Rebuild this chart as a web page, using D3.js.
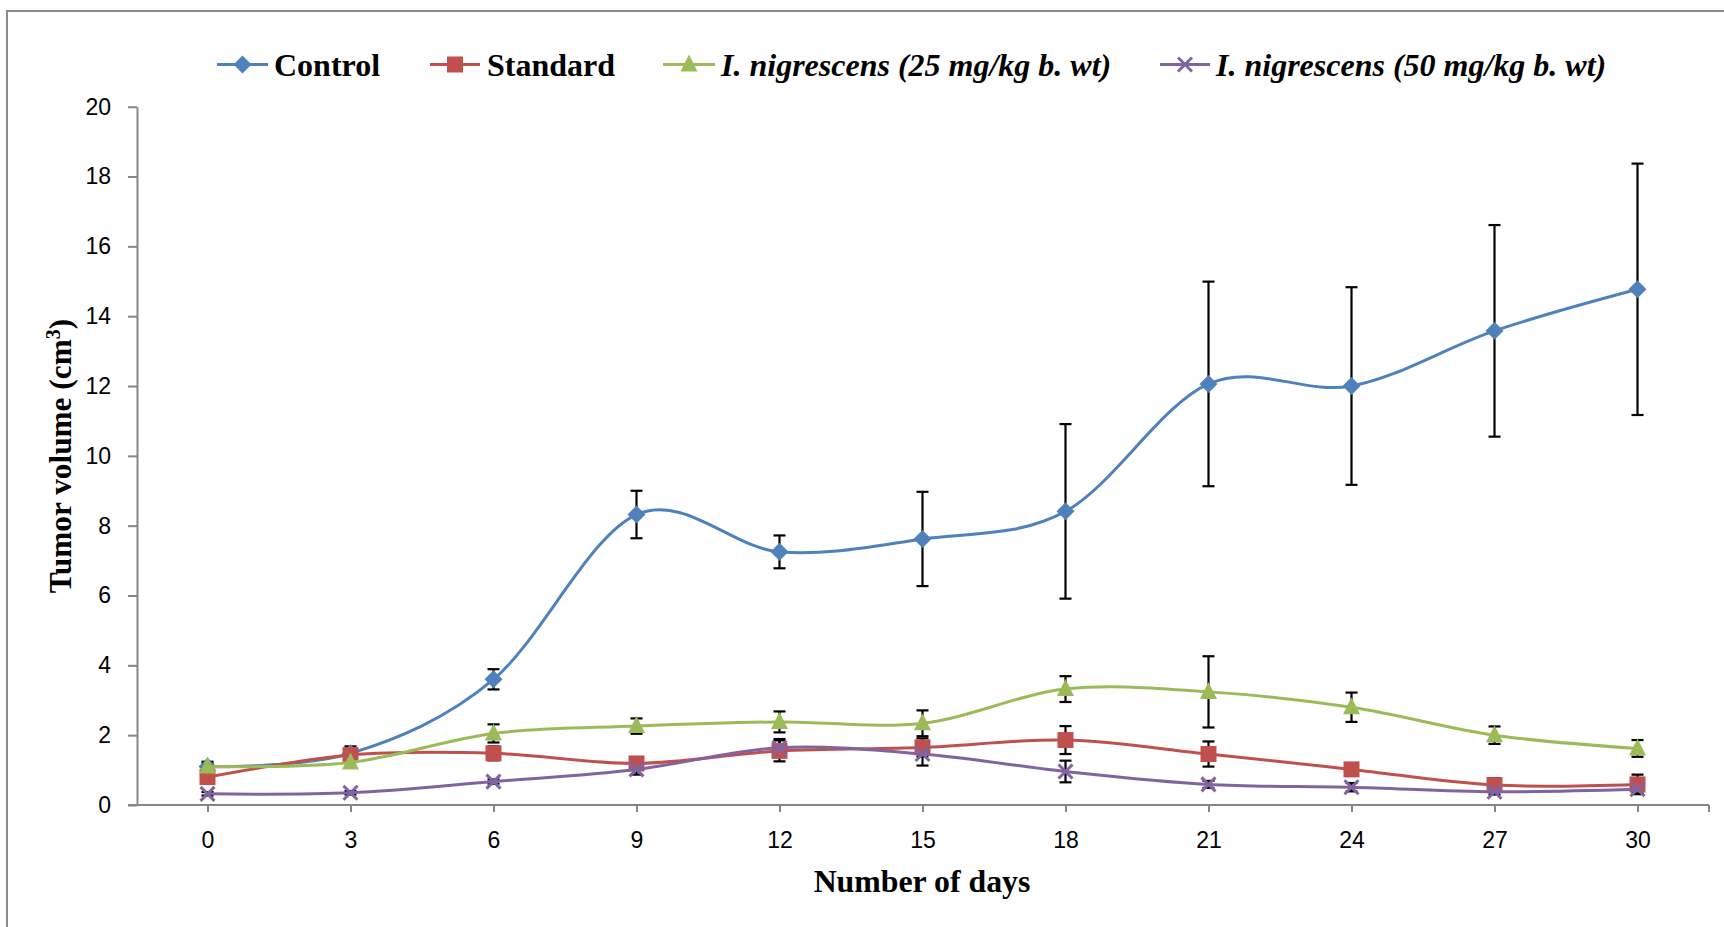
<!DOCTYPE html>
<html>
<head>
<meta charset="utf-8">
<script src="https://cdn.jsdelivr.net/npm/d3@7"></script>
<style>
  html, body { margin: 0; padding: 0; background: #fff; }
  svg { display: block; }
</style>
</head>
<body>
<svg id="chart" width="1724" height="927"></svg>
<script>
// Tumor volume over time, mean ± error, four treatment groups
const days = [0, 3, 6, 9, 12, 15, 18, 21, 24, 27, 30];
const yTicks = [0, 2, 4, 6, 8, 10, 12, 14, 16, 18, 20];

const seriesNames = ["Control", "Standard", "I. nigrescens (25 mg/kg b. wt)", "I. nigrescens (50 mg/kg b. wt)"];

const controlValues   = [1.10, 1.48, 3.60, 8.32, 7.25, 7.62, 8.41, 12.06, 12.00, 13.58, 14.77];
const controlErrors   = [0.14, 0.20, 0.29, 0.68, 0.47, 1.35, 2.50, 2.93, 2.83, 3.03, 3.60];

const standardValues  = [0.80, 1.43, 1.48, 1.19, 1.55, 1.65, 1.86, 1.46, 1.02, 0.57, 0.59];
const standardErrors  = [0.12, 0.20, 0.20, 0.10, 0.30, 0.26, 0.40, 0.36, 0.10, 0.20, 0.28];

const dose25Values    = [1.10, 1.22, 2.05, 2.26, 2.38, 2.34, 3.32, 3.24, 2.80, 2.00, 1.62];
const dose25Errors    = [0.10, 0.15, 0.26, 0.22, 0.30, 0.37, 0.37, 1.02, 0.42, 0.25, 0.24];

const dose50Values    = [0.32, 0.35, 0.67, 1.02, 1.64, 1.46, 0.96, 0.59, 0.51, 0.38, 0.45];
const dose50Errors    = [0.05, 0.05, 0.06, 0.15, 0.25, 0.33, 0.31, 0.10, 0.12, 0.08, 0.10];

const colors  = ["#4F81BD", "#C0504D", "#9BBB59", "#8064A2"];
const symbols = ["diamond", "square", "triangle", "cross"];

const series = [
  { name: seriesNames[0], values: controlValues,  errors: controlErrors,  color: colors[0], symbol: symbols[0] },
  { name: seriesNames[1], values: standardValues, errors: standardErrors, color: colors[1], symbol: symbols[1] },
  { name: seriesNames[2], values: dose25Values,   errors: dose25Errors,   color: colors[2], symbol: symbols[2] },
  { name: seriesNames[3], values: dose50Values,   errors: dose50Errors,   color: colors[3], symbol: symbols[3] }
];

const svg = d3.select("#chart");
const axisColor = "#868686";
const serif = "'Liberation Serif', 'Times New Roman', serif";
const sans = "'Liberation Sans', Arial, sans-serif";

// outer frame
svg.append("rect")
  .attr("x", 7).attr("y", 11)
  .attr("width", 1740).attr("height", 940)
  .attr("fill", "none").attr("stroke", "#8c8c8c").attr("stroke-width", 2);

const x = d3.scaleLinear().domain([-1.5, 31.5]).range([136, 1709]);
const y = d3.scaleLinear().domain([0, 20]).range([805, 106.7]);

// y axis
const yAxis = svg.append("g")
  .attr("transform", `translate(${x(-1.5) + 1},0)`)
  .call(d3.axisLeft(y).tickValues(yTicks).tickSize(9).tickPadding(17).tickSizeOuter(0));
yAxis.select(".domain").attr("stroke", axisColor).attr("stroke-width", 2);
yAxis.selectAll(".tick line").attr("stroke", axisColor).attr("stroke-width", 2);
yAxis.selectAll(".tick text")
  .attr("font-family", sans).attr("font-size", 23).attr("fill", "#000");

// x axis
const xAxis = svg.append("g")
  .attr("transform", `translate(0,${y(0)})`)
  .call(d3.axisBottom(x).tickValues(days).tickSize(7).tickSizeOuter(0).tickFormat(d3.format("d")));
xAxis.select(".domain")
  .attr("d", `M${x(-1.5) - 8},0H${x(31.5)}`)
  .attr("stroke", axisColor).attr("stroke-width", 2);
xAxis.selectAll(".tick line").attr("stroke", axisColor).attr("stroke-width", 2);
xAxis.selectAll(".tick text")
  .attr("font-family", sans).attr("font-size", 23).attr("fill", "#000")
  .attr("y", 43).attr("dy", 0);
xAxis.append("line")
  .attr("x1", x(31.5)).attr("x2", x(31.5)).attr("y1", 0).attr("y2", 7)
  .attr("stroke", axisColor).attr("stroke-width", 2);

// axis titles
svg.append("text")
  .attr("x", 922).attr("y", 892)
  .attr("text-anchor", "middle")
  .attr("font-family", serif).attr("font-weight", "bold").attr("font-size", 31.8)
  .text("Number of days");

const yTitle = svg.append("text")
  .attr("transform", "translate(71,456) rotate(-90)")
  .attr("text-anchor", "middle")
  .attr("font-family", serif).attr("font-weight", "bold").attr("font-size", 31.3);
yTitle.append("tspan").text("Tumor volume (cm");
yTitle.append("tspan").attr("font-size", 20).attr("dy", -11).text("3");
yTitle.append("tspan").attr("dy", 11).text(")");

// marker drawing
function drawMarker(g, symbol, color) {
  if (symbol === "diamond") {
    g.append("path").attr("d", "M0,-9L9,0L0,9L-9,0Z").attr("fill", color);
  } else if (symbol === "square") {
    g.append("rect").attr("x", -8).attr("y", -8).attr("width", 16).attr("height", 16).attr("fill", color);
  } else if (symbol === "triangle") {
    g.append("path").attr("d", "M0,-10L8.5,7L-8.5,7Z").attr("fill", color);
  } else {
    g.append("path").attr("d", "M-7,-7L7,7M-7,7L7,-7")
      .attr("stroke", color).attr("stroke-width", 3).attr("fill", "none");
  }
}

const line = d3.line()
  .x((d, i) => x(days[i]))
  .y(d => y(d))
  .curve(d3.curveCardinal.tension(0));

// error bars
series.forEach(s => {
  const eb = svg.append("g").attr("stroke", "#000").attr("stroke-width", 2.2);
  s.values.forEach((v, i) => {
    const cx = x(days[i]);
    const top = y(v + s.errors[i]);
    const bot = y(v - s.errors[i]);
    eb.append("line").attr("x1", cx).attr("x2", cx).attr("y1", top).attr("y2", bot);
    eb.append("line").attr("x1", cx - 6).attr("x2", cx + 6).attr("y1", top).attr("y2", top);
    eb.append("line").attr("x1", cx - 6).attr("x2", cx + 6).attr("y1", bot).attr("y2", bot);
  });
});

// lines and markers
series.forEach(s => {
  svg.append("path")
    .attr("d", line(s.values))
    .attr("fill", "none")
    .attr("stroke", s.color)
    .attr("stroke-width", 3);
  s.values.forEach((v, i) => {
    const g = svg.append("g").attr("transform", `translate(${x(days[i])},${y(v)})`);
    drawMarker(g, s.symbol, s.color);
  });
});

// legend
const legendPos = [
  { x1: 217, x2: 268, tx: 274, italic: false },
  { x1: 430, x2: 480, tx: 487, italic: false },
  { x1: 663, x2: 715, tx: 721, italic: true },
  { x1: 1160, x2: 1210, tx: 1216, italic: true }
];
series.forEach((s, i) => {
  const p = legendPos[i];
  const g = svg.append("g");
  g.append("line").attr("x1", p.x1).attr("x2", p.x2).attr("y1", 64.5).attr("y2", 64.5)
    .attr("stroke", s.color).attr("stroke-width", 3);
  const m = g.append("g").attr("transform", `translate(${(p.x1 + p.x2) / 2},64.5)`);
  drawMarker(m, s.symbol, s.color);
  g.append("text")
    .attr("x", p.tx).attr("y", 76)
    .attr("font-family", serif).attr("font-weight", "bold")
    .attr("font-style", p.italic ? "italic" : "normal")
    .attr("font-size", 32)
    .text(s.name);
});
</script>
</body>
</html>
